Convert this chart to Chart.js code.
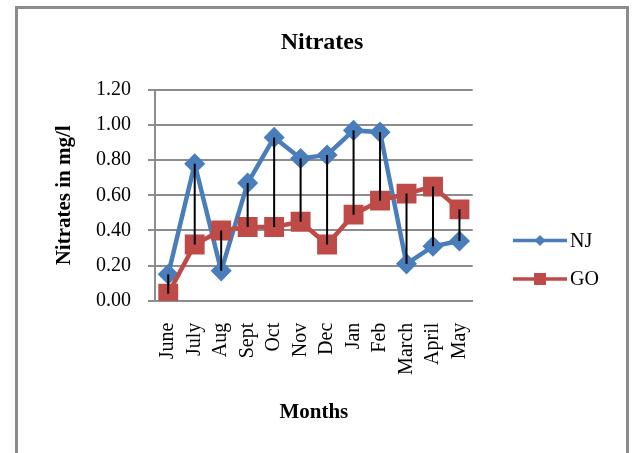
<!DOCTYPE html>
<html>
<head>
<meta charset="utf-8">
<script src="https://cdn.jsdelivr.net/npm/chart.js@4"></script>
<style>
  html, body { margin: 0; padding: 0; background: #fff; }
  #wrap { position: relative; width: 635px; height: 453px; overflow: hidden; }
  #frame { position: absolute; left: 15px; top: 6px; width: 608px; height: 480px; border: 3px solid #8c8c8c; }
  canvas { position: absolute; left: 0; top: 0; }
</style>
</head>
<body>
<div id="wrap">
  <div id="frame"></div>
  <canvas id="c" width="635" height="453"></canvas>
</div>
<script>
const months = ["June", "July", "Aug", "Sept", "Oct", "Nov", "Dec", "Jan", "Feb", "March", "April", "May"];
const njValues = [0.15, 0.78, 0.17, 0.67, 0.93, 0.81, 0.83, 0.97, 0.96, 0.21, 0.31, 0.34];
const goValues = [0.04, 0.32, 0.40, 0.42, 0.42, 0.45, 0.32, 0.49, 0.57, 0.61, 0.65, 0.52];
const seriesNames = ["NJ", "GO"];
const yTicks = [0, 0.2, 0.4, 0.6, 0.8, 1.0, 1.2];

const BLUE = "#4a7ebb";
const RED = "#be4b48";
const GRID = "#8c8c8c";
const SERIF = "'Liberation Serif', 'Times New Roman', serif";

const highLowPlugin = {
  id: "highLow",
  afterDatasetsDraw(chart) {
    const a = chart.getDatasetMeta(0).data;
    const b = chart.getDatasetMeta(1).data;
    const ctx = chart.ctx;
    ctx.save();
    ctx.strokeStyle = "#000";
    ctx.lineWidth = 2;
    for (let i = 0; i < a.length; i++) {
      ctx.beginPath();
      ctx.moveTo(a[i].x, a[i].y);
      ctx.lineTo(b[i].x, b[i].y);
      ctx.stroke();
    }
    ctx.restore();
  }
};

const legendPlugin = {
  id: "customLegend",
  afterDraw(chart) {
    const ctx = chart.ctx;
    const rows = [
      { label: chart.data.datasets[0].label, color: BLUE, style: "diamond", y: 240.5 },
      { label: chart.data.datasets[1].label, color: RED, style: "square", y: 279 }
    ];
    ctx.save();
    rows.forEach(r => {
      ctx.strokeStyle = r.color;
      ctx.lineWidth = 3.5;
      ctx.beginPath();
      ctx.moveTo(513, r.y);
      ctx.lineTo(567, r.y);
      ctx.stroke();
      ctx.fillStyle = r.color;
      ctx.beginPath();
      if (r.style === "diamond") {
        ctx.moveTo(540 - 5.5, r.y);
        ctx.lineTo(540, r.y - 5.5);
        ctx.lineTo(540 + 5.5, r.y);
        ctx.lineTo(540, r.y + 5.5);
        ctx.closePath();
      } else {
        ctx.rect(534, r.y - 6, 12, 12);
      }
      ctx.fill();
      ctx.fillStyle = "#000";
      ctx.font = "20px " + SERIF;
      ctx.textBaseline = "middle";
      ctx.textAlign = "left";
      ctx.fillText(r.label, 570, r.y + 1);
    });
    ctx.restore();
  }
};

new Chart(document.getElementById("c"), {
  type: "line",
  data: {
    labels: months,
    datasets: [
      {
        label: seriesNames[0],
        data: njValues,
        borderColor: BLUE,
        backgroundColor: BLUE,
        borderWidth: 4.5,
        tension: 0,
        pointStyle: "rectRot",
        pointRadius: 9.5,
        pointBorderWidth: 1.5,
        pointBackgroundColor: BLUE,
        pointBorderColor: BLUE,
        order: 1
      },
      {
        label: seriesNames[1],
        data: goValues,
        borderColor: RED,
        backgroundColor: RED,
        borderWidth: 4.5,
        tension: 0,
        pointStyle: "rect",
        pointRadius: 13,
        pointBorderWidth: 1.5,
        pointBackgroundColor: RED,
        pointBorderColor: RED,
        order: 0
      }
    ]
  },
  options: {
    responsive: false,
    animation: false,
    devicePixelRatio: 1,
    layout: { padding: { left: 9, right: 0, top: 0, bottom: 0 } },
    plugins: {
      legend: { display: false },
      tooltip: { enabled: false },
      title: {
        display: true,
        text: "Nitrates",
        color: "#000",
        font: { family: SERIF, size: 24, weight: "bold", lineHeight: 1.2 },
        padding: { top: 28.6, bottom: 32.6 }
      }
    },
    scales: {
      x: {
        type: "category",
        offset: true,
        grid: { display: true, drawOnChartArea: false, drawTicks: false },
        border: { display: true, color: GRID, width: 2 },
        ticks: {
          autoSkip: false,
          maxRotation: 90,
          minRotation: 90,
          padding: 22,
          color: "#000",
          font: { family: SERIF, size: 20 }
        },
        title: {
          display: true,
          text: "Months",
          color: "#000",
          font: { family: SERIF, size: 21, weight: "bold", lineHeight: 1.2 },
          padding: { top: 0, bottom: 27.4 }
        },
        afterFit(scale) { scale.height = 152.3; }
      },
      y: {
        min: 0,
        max: 1.2,
        afterBuildTicks(scale) { scale.ticks = yTicks.map(v => ({ value: v })); },
        grid: { color: GRID, lineWidth: 2, tickLength: 7, tickColor: GRID, tickWidth: 2 },
        border: { display: true, color: GRID, width: 2 },
        ticks: {
          padding: 17,
          color: "#000",
          font: { family: SERIF, size: 20 },
          callback: v => Number(v).toFixed(2)
        },
        title: {
          display: true,
          text: "Nitrates in mg/l",
          color: "#000",
          font: { family: SERIF, size: 21, weight: "bold", lineHeight: 1.2 },
          padding: { top: 43.4, bottom: 0 }
        },
        afterFit(scale) { scale.width = 146; }
      },
      legendSpace: {
        type: "linear",
        position: "right",
        display: true,
        grid: { display: false, drawTicks: false },
        border: { display: false },
        ticks: { display: false },
        afterFit(scale) { scale.width = 162.3; }
      }
    }
  },
  plugins: [highLowPlugin, legendPlugin]
});
</script>
</body>
</html>
